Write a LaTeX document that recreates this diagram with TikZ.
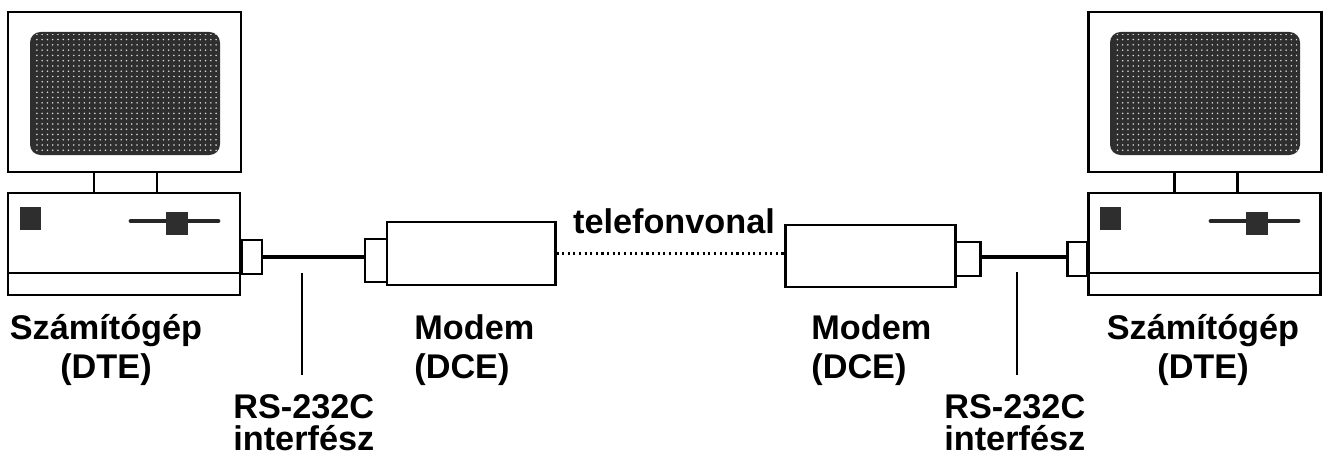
\documentclass[tikz,border=0pt]{standalone}
\usepackage{fontspec}
\setmainfont{Liberation Sans}
\usetikzlibrary{patterns}
\newlength\px
\setlength\px{0.02cm}

\tikzset{
  vonal/.style={line width=1.7pt},
  doboz/.style={draw, line width=1.7pt, inner sep=0pt, fill=white},
  felirat/.style={font=\bfseries\fontsize{19.5}{22}\selectfont, inner sep=0pt},
}

% computer: monitor and base, shifted by #1
\newcommand\gep[1]{
\begin{scope}[shift={(#1,0)}]
\draw[vonal] (8,12) rectangle (241,172);
\fill[black!82, rounded corners=6pt] (30,32) rectangle (220,155);
\fill[pattern=dots, pattern color=white!85!black] (33,35) rectangle (217,152);
\draw[vonal] (94,172) -- (94,193) (157,172) -- (157,193);
\draw[vonal] (8,193) rectangle (240,295)
  (8,273) -- (240,273);
\fill[black!82] (20,207) rectangle (41,230);
\draw[line width=2.8pt, line cap=round, black!85] (131,221) -- (218,221);
\fill[black!82] (166,212) rectangle (188,235);
\end{scope}
}

\begin{document}
\begin{tikzpicture}[x=0.02cm, y=-0.02cm]
\useasboundingbox (0,0) rectangle (1325,456);

\gep{0}
\gep{1080}

% connectors and modems
\node[doboz, minimum width=20\px, minimum height=34\px] (bcsat) at (252,257) {};
\node[doboz, minimum width=22\px, minimum height=43\px] (bmcsat) at (376,260.5) {};
\node[doboz, minimum width=168\px, minimum height=63\px] (bmodem) at (471,253.5) {};
\node[doboz, minimum width=170\px, minimum height=62\px] (jmodem) at (870,256) {};
\node[doboz, minimum width=25\px, minimum height=34\px] (jmcsat) at (967.5,259) {};
\node[doboz, minimum width=20\px, minimum height=34\px] (jcsat) at (1077,259) {};

\draw[line width=2.2pt] (bcsat.east) -- (bcsat.east -| bmcsat.west);
\draw[line width=2.2pt] (jmcsat.east |- 0,257) -- (jcsat.west |- 0,257);
\draw[line width=1.2pt, dotted] (bmodem.east) -- (bmodem.east -| jmodem.west);

\node[felirat, anchor=base] (telefon) at (674,233) {telefonvonal};

% labels (base = last line)
\node[felirat, anchor=base, align=center] (bgep) at (106,378) {Számítógép\\(DTE)};
\node[felirat, anchor=base, align=center] (jgep) at (1203,378) {Számítógép\\(DTE)};
\node[felirat, anchor=base west, align=left] (bmfel) at (414,378) {Modem\\(DCE)};
\node[felirat, anchor=base west, align=left] (jmfel) at (811,378) {Modem\\(DCE)};
\node[felirat, anchor=base west, align=left] (bint) at (233,450) {RS-232C\\[-4pt]interfész};
\node[felirat, anchor=base west, align=left] (jint) at (944,450) {RS-232C\\[-4pt]interfész};

\coordinate (bmut) at (302,273);
\coordinate (jmut) at (1017,272);
\draw[line width=1.5pt] (bmut) -- (bmut |- 0,375);
\draw[line width=1.5pt] (jmut) -- (jmut |- 0,375);

\end{tikzpicture}
\end{document}
